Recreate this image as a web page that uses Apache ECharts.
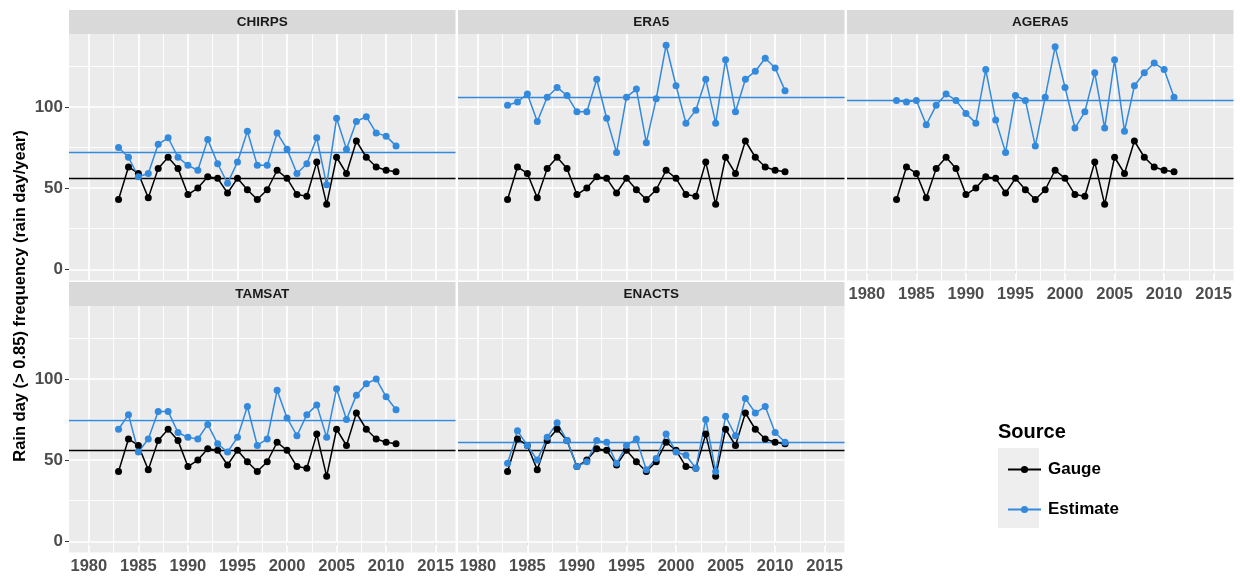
<!DOCTYPE html>
<html><head><meta charset="utf-8">
<script src="https://cdn.jsdelivr.net/npm/echarts@6/dist/echarts.min.js"></script>
<style>html,body{margin:0;padding:0;background:#fff}#c{width:1240px;height:576px}</style>
</head><body><div id="c"></div>
<script>
// ---------- data ----------
const years = [1983,1984,1985,1986,1987,1988,1989,1990,1991,1992,1993,1994,1995,1996,1997,1998,1999,2000,2001,2002,2003,2004,2005,2006,2007,2008,2009,2010,2011];
const panelNames = ['CHIRPS','ERA5','AGERA5','TAMSAT','ENACTS'];
const gauge  = [43,63,59,44,62,69,62,46,50,57,56,47,56,49,43,49,61,56,46,45,66,40,69,59,79,69,63,61,60];
const chirps = [75,69,57,59,77,81,69,64,61,80,65,53,66,85,64,64,84,74,59,65,81,52,93,74,91,94,84,82,76];
const era5   = [101,103,108,91,106,112,107,97,97,117,93,72,106,111,78,105,138,113,90,98,117,90,129,97,117,122,130,124,110];
const agera5 = [104,103,104,89,101,108,104,96,90,123,92,72,107,104,76,106,137,112,87,97,121,87,129,85,113,121,127,123,106];
const tamsat = [69,78,55,63,80,80,67,64,63,72,60,55,64,83,59,63,93,76,65,78,84,64,94,75,90,97,100,89,81];
const enacts = [48,68,59,50,64,73,62,46,49,62,61,48,59,63,44,51,66,55,53,45,75,43,77,65,88,79,83,67,61];
const gaugeMean = 56.2;
const estimateMeans = [72.3, 106.1, 104.2, 74.4, 60.8];
const xTickLabels = [1980,1985,1990,1995,2000,2005,2010,2015];
const xMinorBreaks = [1982.5,1987.5,1992.5,1997.5,2002.5,2007.5,2012.5];
const yTickLabels = [0,50,100];
const yMinorBreaks = [25,75,125];
const seriesNames = ['Gauge','Estimate'];

// ---------- layout / style ----------
const FONT = '"Liberation Sans", Arial, Helvetica, sans-serif';
const BLUE = '#3389DC';
const X_MIN = 1978, X_MAX = 2017, Y_MIN = -6.9, Y_MAX = 144.9;
const colLeft = [69, 458, 847];
const panelW = 386.5;
const rowTop = [34, 306];
const panelH = 246.5;
const stripH = 24;
const pos = [[0,0],[0,1],[0,2],[1,0],[1,1]];
const showX = [false,false,true,true,true];
const showY = [true,false,false,true,false];
const estimates = [chirps, era5, agera5, tamsat, enacts];

const grids = [], xAxes = [], yAxes = [], series = [], graphics = [];
const plain = v => String(v);

pos.forEach(([r,c], i) => {
  const left = colLeft[c], top = rowTop[r];
  grids.push({left, top, width: panelW, height: panelH, show: true, backgroundColor: '#EBEBEB', borderWidth: 0, containLabel: false});
  xAxes.push({
    type: 'value', gridIndex: i, min: X_MIN, max: X_MAX, show: showX[i],
    axisLine: {show: false},
    axisTick: {show: true, customValues: xTickLabels, length: 4, lineStyle: {color: '#333', width: 1}},
    axisLabel: {show: true, customValues: xTickLabels, formatter: plain, color: '#4D4D4D', fontWeight: 'bold', fontSize: 16.5, fontFamily: FONT, margin: 5},
    splitLine: {show: false}
  });
  yAxes.push({
    type: 'value', gridIndex: i, min: Y_MIN, max: Y_MAX, show: showY[i],
    axisLine: {show: false},
    axisTick: {show: true, customValues: yTickLabels, length: 4, lineStyle: {color: '#333', width: 1}},
    axisLabel: {show: true, customValues: yTickLabels, formatter: plain, color: '#4D4D4D', fontWeight: 'bold', fontSize: 17, fontFamily: FONT, margin: 6},
    splitLine: {show: false}
  });
  const major = {color: '#FFFFFF', width: 1.7, type: 'solid'};
  const minor = {color: '#FFFFFF', width: 0.9, type: 'solid'};
  series.push({
    type: 'line', xAxisIndex: i, yAxisIndex: i, data: [], silent: true, z: 1,
    markLine: {
      z: 1, silent: true, symbol: 'none', animation: false, label: {show: false}, emphasis: {disabled: true},
      data: [
        ...yMinorBreaks.map(v => ({yAxis: v, lineStyle: minor})),
        ...xMinorBreaks.map(v => ({xAxis: v, lineStyle: minor})),
        ...yTickLabels.map(v => ({yAxis: v, lineStyle: major})),
        ...xTickLabels.map(v => ({xAxis: v, lineStyle: major}))
      ]
    }
  });
  const mk = (name, vals, color, mean) => ({
    name, type: 'line', xAxisIndex: i, yAxisIndex: i, z: 3,
    data: years.map((y, k) => [y, vals[k]]),
    symbol: 'circle', symbolSize: 7, showSymbol: true,
    itemStyle: {color}, lineStyle: {color, width: 1.5},
    emphasis: {disabled: true}, animation: false,
    markLine: {z: 2, silent: true, symbol: 'none', animation: false, label: {show: false}, emphasis: {disabled: true},
      lineStyle: {color, width: 1.3, type: 'solid'}, data: [{yAxis: mean}]}
  });
  series.push(mk(seriesNames[0], gauge, '#000000', gaugeMean));
  series.push(mk(seriesNames[1], estimates[i], BLUE, estimateMeans[i]));

  // strip
  graphics.push({type: 'rect', z: 10, shape: {x: left, y: top - stripH, width: panelW, height: stripH}, style: {fill: '#D9D9D9'}});
  graphics.push({type: 'text', z: 11, x: left + panelW / 2, y: top - stripH / 2,
    style: {text: panelNames[i], fill: '#1A1A1A', font: 'bold 13.5px ' + FONT, align: 'center', verticalAlign: 'middle', textAlign: 'center', textVerticalAlign: 'middle'}});
});

// axis title
graphics.push({type: 'text', z: 11, x: 20, y: 296, rotation: Math.PI / 2,
  style: {text: 'Rain day (> 0.85) frequency (rain day/year)', fill: '#000', font: 'bold 16.5px ' + FONT, align: 'center', verticalAlign: 'middle', textAlign: 'center', textVerticalAlign: 'middle'}});
// legend title and key background
graphics.push({type: 'text', z: 11, x: 998, y: 432,
  style: {text: 'Source', fill: '#000', font: 'bold 20px ' + FONT, align: 'left', verticalAlign: 'middle', textAlign: 'left', textVerticalAlign: 'middle'}});
graphics.push({type: 'rect', z: 0, shape: {x: 998, y: 448, width: 41, height: 80}, style: {fill: '#EEEEEE'}});

const chart = echarts.init(document.getElementById('c'), null, {renderer: 'canvas'});
chart.setOption({
  animation: false,
  backgroundColor: '#FFFFFF',
  grid: grids, xAxis: xAxes, yAxis: yAxes, series,
  legend: {
    data: seriesNames, orient: 'vertical', left: 1002, top: 456, z: 20,
    itemWidth: 33, itemHeight: 9, itemGap: 23, selectedMode: false,
    textStyle: {fontSize: 17, fontWeight: 'bold', color: '#000', fontFamily: FONT, padding: [0, 0, 0, 2]}
  },
  graphic: {elements: graphics}
});
</script></body></html>
